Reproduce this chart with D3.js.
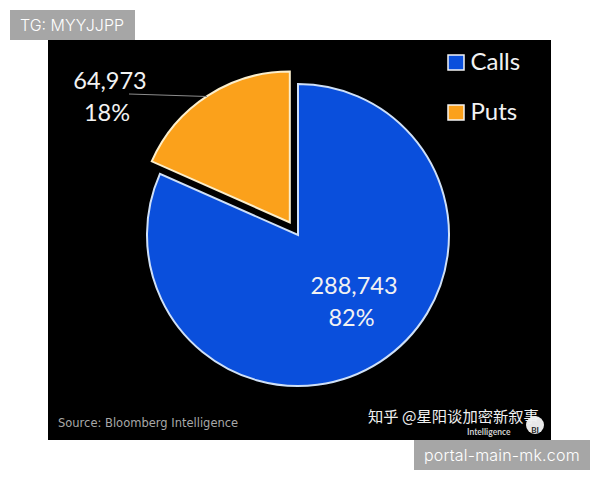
<!DOCTYPE html>
<html>
<head>
<meta charset="utf-8">
<script src="https://cdn.jsdelivr.net/npm/d3@7"></script>
<style>html,body{margin:0;padding:0;background:#fff}svg{display:block}</style>
</head>
<body>
<svg id="c" width="600" height="480"></svg>
<script>
const categories = ["Calls", "Puts"];
const values = [288743, 64973];
const percents = ["82%", "18%"];
const colors = ["#0a4fdc", "#fba11b"];
const source = "Source: Bloomberg Intelligence";
const watermark = "知乎 @星阳谈加密新叙事";
const tagLeft = "TG: MYYJJPP";
const tagRight = "portal-main-mk.com";

const svg = d3.select("#c");
const font = "Lato, 'Open Sans', sans-serif";
svg.append("rect").attr("x",48).attr("y",40).attr("width",503).attr("height",400).attr("fill","#000");

const cx = 298, cy = 235, R = 151, explode = 15;
const arcs = d3.pie().sort(null)(values);
const arc = d3.arc().innerRadius(0).outerRadius(R);
const g = svg.append("g").attr("transform",`translate(${cx},${cy})`);
g.selectAll("path").data(arcs).join("path")
  .attr("d",arc)
  .attr("fill",(d,i)=>colors[i])
  .attr("stroke",(d,i)=>i===0?"#cfe0f7":"#fbeecb")
  .attr("stroke-width",2)
  .attr("stroke-linejoin","miter")
  .attr("transform",(d,i)=>{
    if(i===0) return null;
    const m=(d.startAngle+d.endAngle)/2;
    return `translate(${explode*Math.sin(m)},${-explode*Math.cos(m)})`;
  });

// leader line
svg.append("line").attr("x1",129).attr("y1",94).attr("x2",207).attr("y2",96.5)
  .attr("stroke","#8c8c8c").attr("stroke-width",1);

// data labels
const labels = [
  {i:0,x:354,px:351.5,y1:294,y2:326},
  {i:1,x:110,px:107,y1:89,y2:121}
];
labels.forEach(l=>{
  svg.append("text").attr("x",l.x).attr("y",l.y1).attr("text-anchor","middle")
    .attr("font-family",font).attr("font-size",23.5).attr("fill","#f2f2f2")
    .text(d3.format(",")(values[l.i]));
  svg.append("text").attr("x",l.px).attr("y",l.y2).attr("text-anchor","middle")
    .attr("font-family",font).attr("font-size",23.5).attr("fill","#f2f2f2")
    .text(percents[l.i]);
});

// legend
const lg = svg.append("g");
const legendY = d3.scalePoint().domain(categories).range([55,105]);
categories.forEach((c,i)=>{
  lg.append("rect").attr("x",448).attr("y",legendY(c)).attr("width",16).attr("height",15)
    .attr("fill",colors[i]).attr("stroke","#f4f4f4").attr("stroke-width",1.5);
  lg.append("text").attr("x",470.5).attr("y",legendY(c)+15).attr("font-family",font)
    .attr("font-size",24).attr("fill","#f2f2f2").text(c);
});

// source
svg.append("text").attr("x",58).attr("y",427).attr("font-family","'DejaVu Sans',sans-serif")
  .attr("font-size",11.5).attr("fill","#a8a8a8").text(source);

// logo remnant + watermark
svg.append("text").attr("x",467).attr("y",435).attr("font-family",font).attr("font-weight",700)
  .attr("font-size",8.5).attr("fill","#cfcfcf").text("Intelligence");
svg.append("circle").attr("cx",535).attr("cy",425).attr("r",9).attr("fill","#e8e8e8");
svg.append("text").attr("x",535).attr("y",433).attr("text-anchor","middle").attr("font-family",font)
  .attr("font-weight",700).attr("font-size",8).attr("fill","#222").text("BI");
svg.append("text").attr("x",368).attr("y",422).attr("font-family","'Noto Sans CJK SC',sans-serif")
  .attr("font-size",15.3).attr("fill","#f0f0f0").text(watermark);

// tags
svg.append("rect").attr("x",10).attr("y",10).attr("width",125).attr("height",30).attr("fill","#a6a6a6");
svg.append("text").attr("x",20).attr("y",31).attr("font-family","Inter, sans-serif").attr("font-weight",300).attr("font-size",16).attr("fill","#fff").text(tagLeft);
svg.append("rect").attr("x",414).attr("y",440).attr("width",176).attr("height",30).attr("fill","#a6a6a6");
svg.append("text").attr("x",424).attr("y",461).attr("font-family","Inter, sans-serif").attr("font-weight",300).attr("font-size",16).attr("letter-spacing",0.2).attr("fill","#fff").text(tagRight);
</script>
</body>
</html>
